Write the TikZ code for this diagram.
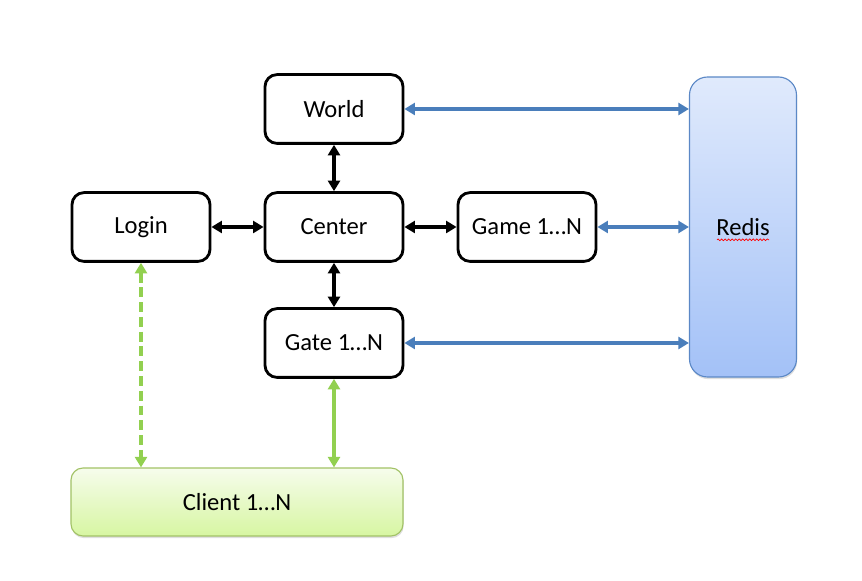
\documentclass[tikz,border=0pt]{standalone}
\usepackage{fontspec}
\setmainfont{Carlito}
\usetikzlibrary{arrows.meta,shadows,decorations.pathmorphing}
\definecolor{linkblue}{HTML}{4A7EBB}
\definecolor{linkgreen}{HTML}{92D050}
\definecolor{redistop}{HTML}{E0EAFC}
\definecolor{redisbot}{HTML}{A3C1F7}
\definecolor{redisline}{HTML}{5B88C6}
\definecolor{clienttop}{HTML}{F6FCEC}
\definecolor{clientbot}{HTML}{D7F6A2}
\definecolor{clientline}{HTML}{A2C266}
\tikzset{
  server/.style={draw, line width=2pt, rounded corners=0.3cm, fill=white,
    minimum width=3.45cm, minimum height=1.72cm, font=\fontsize{17.5}{20}\selectfont},
  store/.style={draw=redisline, line width=0.8pt, rounded corners=0.45cm,
    top color=redistop, bottom color=redisbot,
    drop shadow={opacity=0.25, shadow xshift=0.5pt, shadow yshift=-1.5pt},
    minimum width=2.675cm, minimum height=7.5cm, font=\fontsize{17.5}{20}\selectfont},
  users/.style={draw=clientline, line width=0.8pt, rounded corners=0.3cm,
    top color=clienttop, bottom color=clientbot,
    drop shadow={opacity=0.25, shadow xshift=0.5pt, shadow yshift=-1.5pt},
    minimum width=8.3cm, minimum height=1.7cm, font=\fontsize{17.5}{20}\selectfont},
  inner/.style={{Triangle[length=7.5pt,width=8.5pt]}-{Triangle[length=7.5pt,width=8.5pt]}, line width=2.3pt},
  cache/.style={{Triangle[length=7.5pt,width=8.5pt]}-{Triangle[length=7.5pt,width=8.5pt]}, line width=2.3pt, linkblue},
  client/.style={{Triangle[length=7.5pt,width=8.5pt]}-{Triangle[length=7.5pt,width=8.5pt]}, line width=2.3pt, linkgreen}
}
\begin{document}
\begin{tikzpicture}

\useasboundingbox (0,0) rectangle (21.55,14.525);

\node [server] (world) at (8.35,11.8) {World};
\node [server] (login) at (3.525,8.85) {Login};
\node [server] (center) at (8.35,8.85) {Center};
\node [server] (game) at (13.175,8.85) {Game 1…N};
\node [server] (gate) at (8.35,5.95) {Gate 1…N};
\node [store] (redis) at (18.575,8.85) {Redis};
\node [users] (clients) at (5.925,1.975) {Client 1…N};

% spell check underline under Redis
\draw [red, line width=0.5pt, decorate, decoration={snake, amplitude=0.6pt, segment length=2.5pt}]
  ([xshift=-0.65cm,yshift=-0.32cm]redis.center) -- ([xshift=0.65cm,yshift=-0.32cm]redis.center);

\draw [inner] (center) -- (world);
\draw [inner] (center) -- (login);
\draw [inner] (center) -- (game);
\draw [inner] (center) -- (gate);

\draw [cache] (world.east) -- (world.east -| redis.west);
\draw [cache] (game.east) -- (game.east -| redis.west);
\draw [cache] (gate.east) -- (gate.east -| redis.west);

\draw [client, dashed, dash pattern=on 7pt off 3.5pt] (login.south) -- (login.south |- clients.north);
\draw [client] (gate.south) -- (gate.south |- clients.north);

\end{tikzpicture}
\end{document}
